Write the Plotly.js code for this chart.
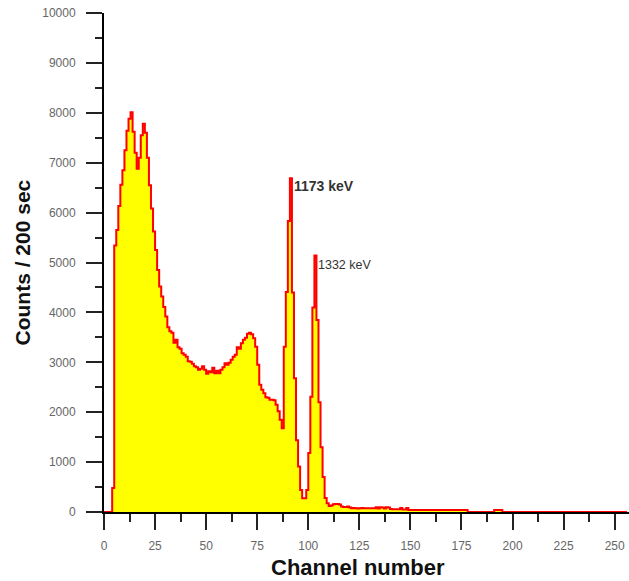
<!DOCTYPE html>
<html>
<head>
<meta charset="utf-8">
<script src="https://cdn.plot.ly/plotly-3.0.1.min.js"></script>
<style>
  html, body { margin: 0; padding: 0; background: #fff; }
  #chart { width: 629px; height: 581px; }
</style>
</head>
<body>
<div id="chart"></div>
<script>
// Gamma spectrum (Co-60): counts per channel over 200 s, channels 0..256
const counts = [
  0, 0, 0, 0, 480, 5340, 5650, 6130, 6560, 6850,            // 0-9
  7250, 7640, 7880, 8010, 7620, 7200, 6880, 7100, 7550, 7780, // 10-19
  7600, 7100, 6550, 6080, 5620, 5250, 4850, 4520, 4320, 4110, // 20-29
  3920, 3700, 3620, 3590, 3390, 3450, 3300, 3270, 3180, 3150, // 30-39
  3110, 3020, 3010, 2970, 2920, 2900, 2850, 2870, 2920, 2850, // 40-49
  2770, 2820, 2800, 2890, 2780, 2830, 2780, 2850, 2900, 2980, // 50-59
  2950, 2990, 3050, 3110, 3150, 3300, 3270, 3380, 3450, 3490, // 60-69
  3570, 3590, 3560, 3480, 3310, 2950, 2550, 2450, 2380, 2300, // 70-79
  2290, 2250, 2250, 2240, 2150, 2020, 1850, 1680, 3310, 4410, // 80-89
  5830, 6690, 4400, 2680, 1440, 910, 440, 275, 275, 440,      // 90-99
  1180, 2310, 4100, 5140, 3850, 2200, 1300, 700, 280, 175,    // 100-109
  120, 130, 155, 160, 160, 150, 110, 100, 100, 110,           // 110-119
  90, 75, 78, 75, 72, 75, 78, 75, 74, 76,                     // 120-129
  75, 73, 75, 95, 70, 95, 90, 70, 95, 90,                     // 130-139
  60, 55, 55, 55, 55, 80, 50, 50, 80, 40,                     // 140-149
  40, 42, 40, 38, 40, 42, 40, 40, 38, 40,                     // 150-159
  42, 40, 40, 38, 40, 40, 42, 40, 38, 40,                     // 160-169
  40, 42, 40, 40, 38, 40, 40, 40, 0, 0,                       // 170-179
  0, 0, 0, 0, 0, 0, 0, 0, 0, 0,                               // 180-189
  0, 40, 40, 40, 40, 0, 0, 0, 0, 0,                           // 190-199
  0, 0, 0, 0, 0, 0, 0, 0, 0, 0,                               // 200-209
  0, 0, 0, 0, 0, 0, 0, 0, 0, 0,                               // 210-219
  0, 0, 0, 0, 0, 0, 0, 0, 0, 0,                               // 220-229
  0, 0, 0, 0, 0, 0, 0, 0, 0, 0,                               // 230-239
  0, 0, 0, 0, 0, 0, 0, 0, 0, 0,                               // 240-249
  0, 0, 0, 0, 0, 0, 0                                         // 250-256
];
const channels = counts.map((_, i) => i);

// Photopeak labels
const peakLabels = ["1173 keV", "1332 keV"];
const peakLabelChannels = [92, 104];
const peakLabelCounts = [6530, 4960];

const trace = {
  x: channels,
  y: counts,
  type: "scatter",
  mode: "lines",
  line: { shape: "hv", color: "#ff0000", width: 2 },
  fill: "tozeroy",
  fillcolor: "#ffff00",
  hoverinfo: "x+y"
};

const tickFont = { family: "Liberation Sans, Arial, sans-serif", size: 12, color: "#666666" };
const titleFont = { family: "Liberation Sans, Arial, sans-serif", color: "#111111" };

const layout = {
  width: 629,
  height: 581,
  margin: { l: 104, r: 0, t: 13, b: 69, pad: 0 },
  paper_bgcolor: "#ffffff",
  plot_bgcolor: "#ffffff",
  showlegend: false,
  xaxis: {
    range: [0, 257],
    tick0: 0,
    dtick: 25,
    tickformat: "d",
    ticks: "outside",
    ticklen: 16,
    tickwidth: 2,
    tickcolor: "#222222",
    ticklabelstandoff: 6,
    showline: true,
    linewidth: 2,
    linecolor: "#000000",
    showgrid: false,
    zeroline: false,
    layer: "below traces",
    tickfont: tickFont,
    minor: { dtick: 12.5, tick0: 0, ticks: "outside", ticklen: 8, tickwidth: 2, tickcolor: "#222222", showgrid: false }
  },
  yaxis: {
    range: [0, 10000],
    tick0: 0,
    dtick: 1000,
    tickformat: "d",
    ticks: "outside",
    ticklen: 16,
    tickwidth: 2,
    tickcolor: "#222222",
    ticklabelstandoff: 8,
    showline: true,
    linewidth: 2,
    linecolor: "#000000",
    showgrid: false,
    zeroline: false,
    layer: "below traces",
    tickfont: tickFont,
    minor: { dtick: 500, tick0: 0, ticks: "outside", ticklen: 7, tickwidth: 2, tickcolor: "#222222", showgrid: false }
  },
  annotations: [
    {
      text: "<b>Channel number</b>",
      xref: "paper", yref: "paper",
      x: 0.484, y: 0,
      xanchor: "center", yanchor: "middle",
      yshift: -55,
      showarrow: false,
      font: Object.assign({ size: 22 }, titleFont)
    },
    {
      text: "<b>Counts / 200 sec</b>",
      xref: "paper", yref: "paper",
      x: 0, y: 0.5,
      xanchor: "center", yanchor: "middle",
      xshift: -82,
      textangle: -90,
      showarrow: false,
      font: Object.assign({ size: 21 }, titleFont)
    },
    {
      text: "<b>" + peakLabels[0] + "</b>",
      x: peakLabelChannels[0], y: peakLabelCounts[0],
      xanchor: "left", yanchor: "middle",
      showarrow: false,
      font: { family: "Liberation Sans, Arial, sans-serif", size: 14, color: "#333333" }
    },
    {
      text: peakLabels[1],
      x: peakLabelChannels[1], y: peakLabelCounts[1],
      xanchor: "left", yanchor: "middle",
      showarrow: false,
      font: { family: "Liberation Sans, Arial, sans-serif", size: 12.5, color: "#333333" }
    }
  ]
};

Plotly.newPlot("chart", [trace], layout, { staticPlot: true, displayModeBar: false });
</script>
</body>
</html>
